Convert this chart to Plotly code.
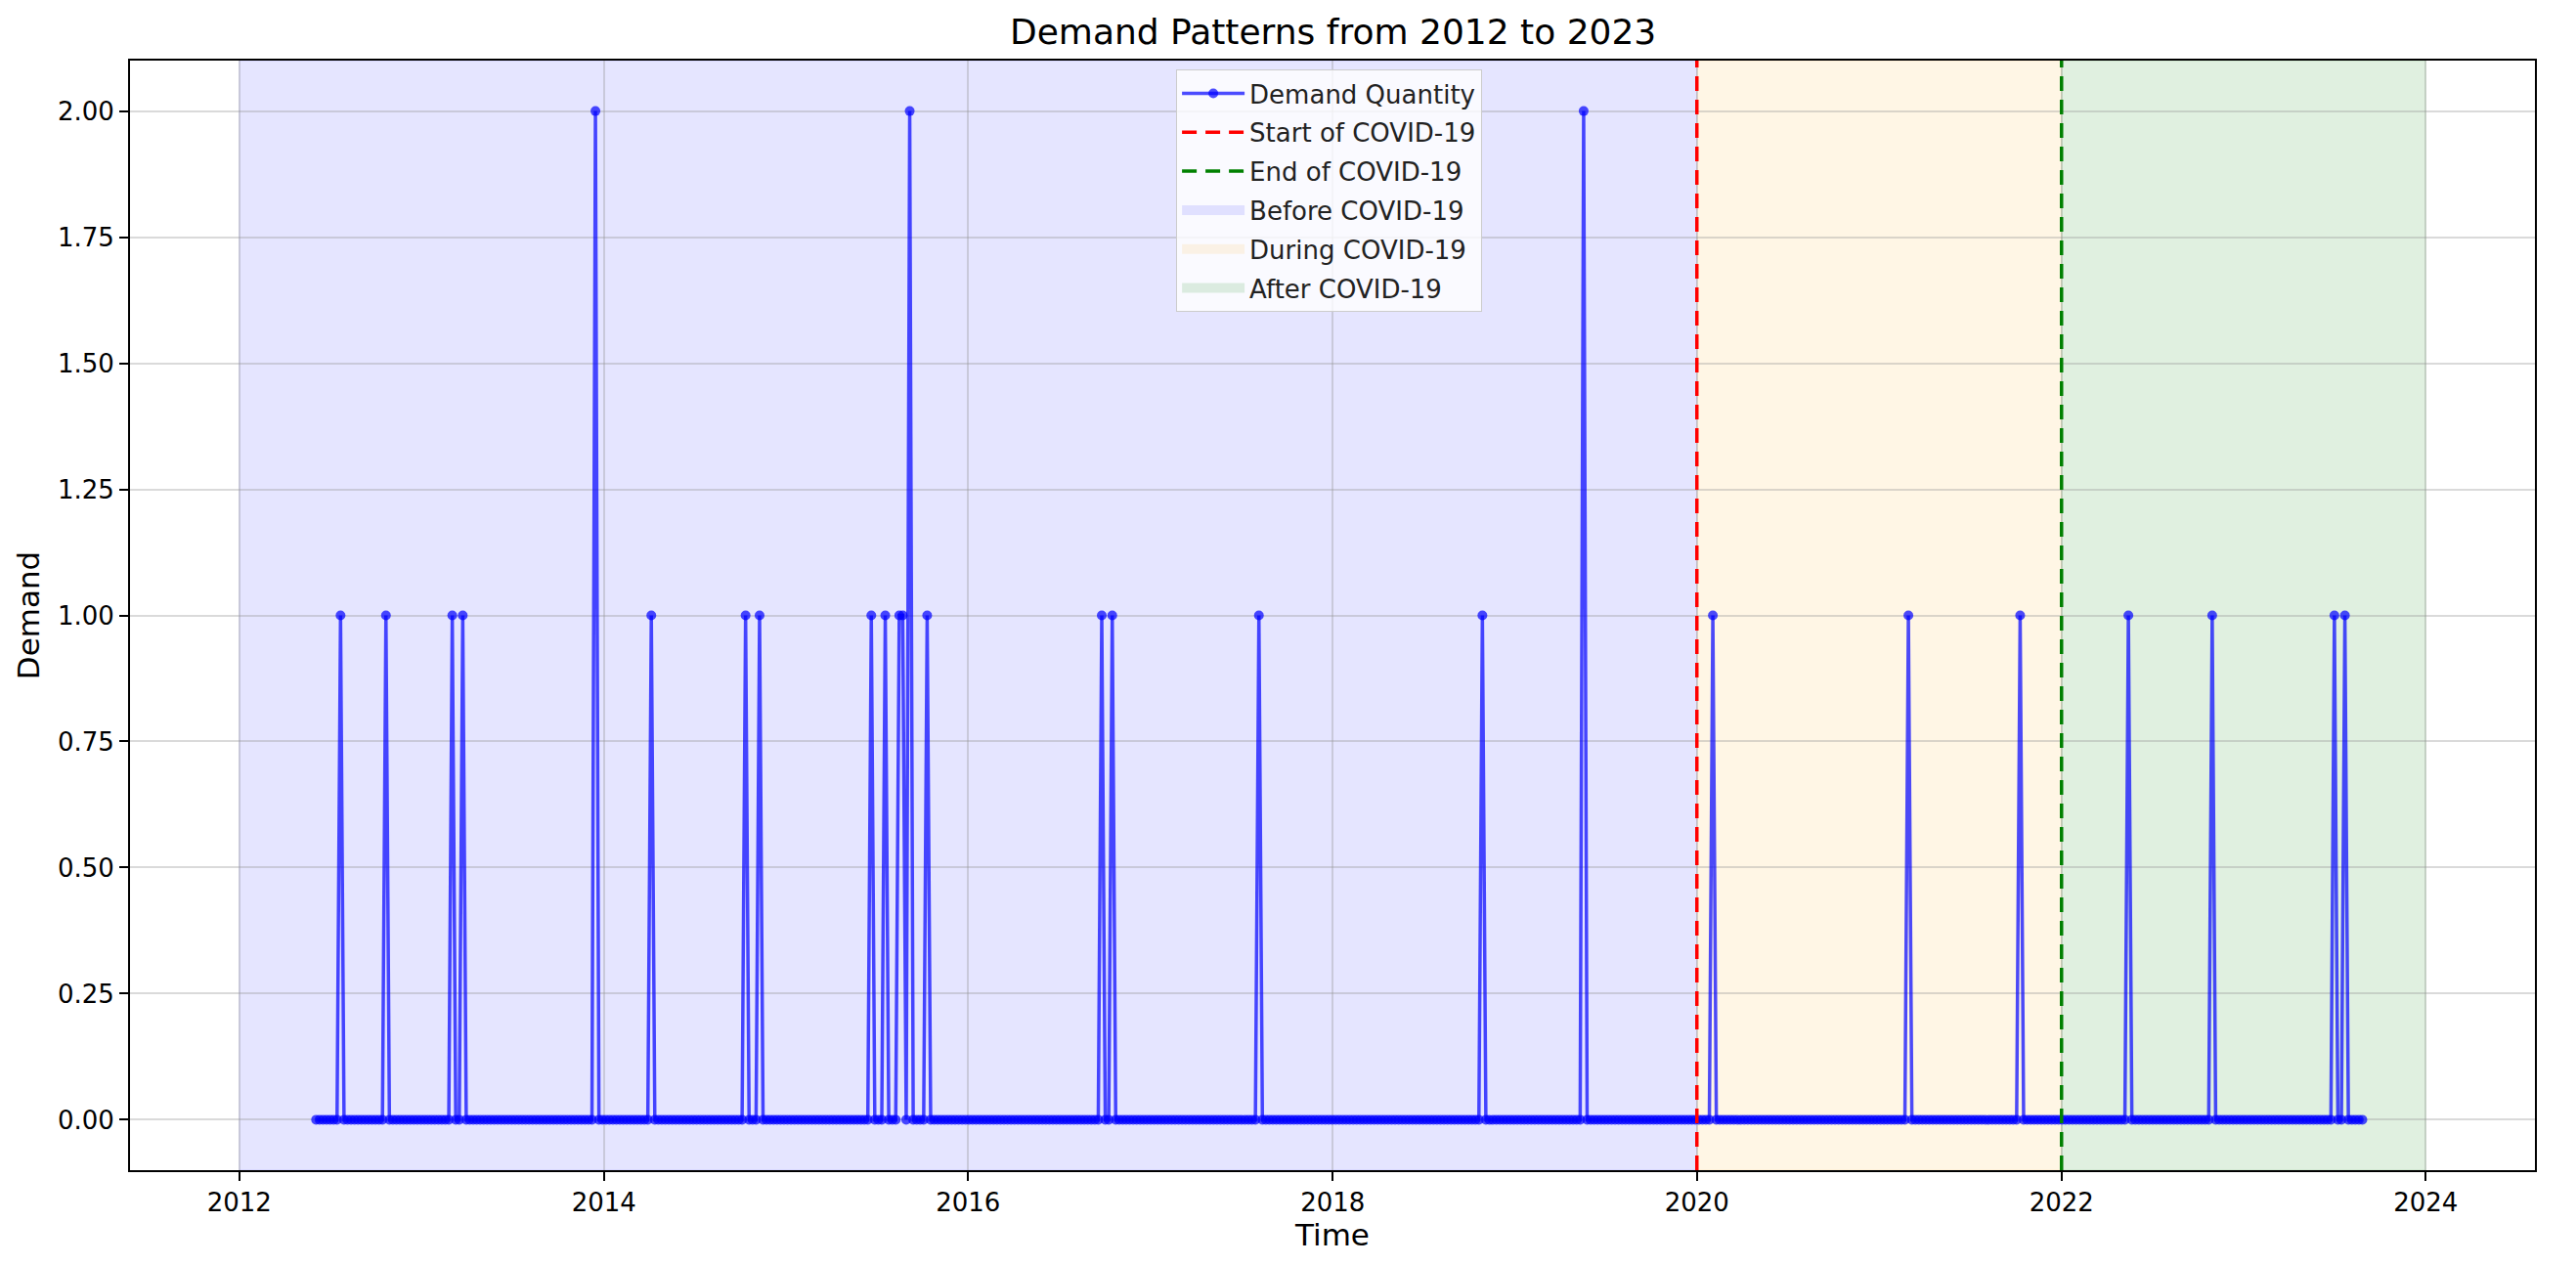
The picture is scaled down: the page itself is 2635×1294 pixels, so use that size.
import pandas as pd
import plotly.graph_objects as go

# ---- data ----
week_start = "2012-06-03"
week_end = "2023-08-27"
spike_dates = [
    "2012-07-22", "2012-10-21", "2013-03-03", "2013-03-24", "2013-12-15",
    "2014-04-06", "2014-10-12", "2014-11-09", "2015-06-21", "2015-07-19",
    "2015-08-16", "2015-08-23", "2015-09-06", "2015-10-11", "2016-09-25",
    "2016-10-16", "2017-08-06", "2018-10-28", "2019-05-19", "2020-02-02",
    "2021-02-28", "2021-10-10", "2022-05-15", "2022-10-30", "2023-07-02",
    "2023-07-23",
]
spike_values = [
    1, 1, 1, 1, 2,
    1, 1, 1, 1, 1,
    1, 1, 2, 1, 1,
    1, 1, 1, 2, 1,
    1, 1, 1, 1, 1,
    1,
]
covid_start = "2020-01-01"
covid_end = "2022-01-01"
period_start = "2012-01-01"
period_end = "2024-01-01"
x_tick_years = ["2012", "2014", "2016", "2018", "2020", "2022", "2024"]
y_ticks = [0.0, 0.25, 0.5, 0.75, 1.0, 1.25, 1.5, 1.75, 2.0]

weeks = pd.date_range(week_start, week_end, freq="W-SUN")
spike_map = {pd.Timestamp(d): v for d, v in zip(spike_dates, spike_values)}
demand = [spike_map.get(w, 0) for w in weeks]

FONT = "DejaVu Sans"
fig = go.Figure()

fig.add_trace(go.Scatter(
    x=weeks, y=demand, mode="lines+markers", name="Demand Quantity",
    line=dict(color="rgba(0,0,255,0.7)", width=3.5),
    marker=dict(color="rgba(0,0,255,0.7)", size=10, line=dict(width=0)),
    legendrank=1, legendgroup="g1",
))

# shaded periods (drawn as shapes, legend entries via dummy traces)
spans = [
    (period_start, covid_start, "rgba(0,0,255,0.10)", "Before COVID-19", 4),
    (covid_start, covid_end, "rgba(255,165,0,0.10)", "During COVID-19", 5),
    (covid_end, period_end, "rgba(0,128,0,0.12)", "After COVID-19", 6),
]
for x0, x1, col, nm, rk in spans:
    fig.add_shape(type="rect", xref="x", yref="paper", x0=x0, x1=x1, y0=0, y1=1,
                  fillcolor=col, line=dict(color=col, width=1), layer="below")
    fig.add_trace(go.Scatter(
        x=[None], y=[None], mode="lines", name=nm,
        line=dict(color=col, width=20), legendrank=rk, legendgroup="g%d" % rk,
        hoverinfo="skip",
    ))

# covid boundary lines
fig.add_shape(type="line", xref="x", yref="paper", x0=covid_start, x1=covid_start, y0=0, y1=1,
              line=dict(color="red", width=3.5, dash="15px,9px"), layer="above",
              showlegend=True, name="Start of COVID-19", legendrank=2, legendgroup="g2")
fig.add_shape(type="line", xref="x", yref="paper", x0=covid_end, x1=covid_end, y0=0, y1=1,
              line=dict(color="green", width=3.5, dash="15px,9px"), layer="above",
              showlegend=True, name="End of COVID-19", legendrank=3, legendgroup="g3")

fig.update_layout(
    width=2635, height=1294,
    margin=dict(l=133, r=42, t=62, b=97),
    paper_bgcolor="white", plot_bgcolor="white",
    font=dict(family=FONT, size=26, color="black"),
    title=dict(text="Demand Patterns from 2012 to 2023", x=0.5175, xanchor="center",
               y=0.975, yanchor="middle", font=dict(size=36, family=FONT, color="black")),
    legend=dict(x=0.435, y=0.992, xanchor="left", yanchor="top",
                bgcolor="rgba(255,255,255,0.8)", bordercolor="#cccccc", borderwidth=1,
                font=dict(size=26, family=FONT, color="#222222"), itemwidth=64,
                tracegroupgap=3, traceorder="grouped"),
    showlegend=True,
)

fig.update_xaxes(
    type="date", range=["2011-05-27", "2024-08-07"], automargin=False,
    tickvals=[pd.Timestamp(y + "-01-01") for y in x_tick_years], ticktext=x_tick_years,
    showgrid=True, gridcolor="rgba(150,150,150,0.35)", gridwidth=2,
    showline=True, linecolor="black", linewidth=2, mirror=True,
    ticks="outside", ticklen=9, tickwidth=2, tickcolor="black",
    tickfont=dict(size=26, family=FONT),
    title=dict(text="Time", font=dict(size=31, family=FONT), standoff=7),
    zeroline=False,
)
fig.update_yaxes(
    range=[-0.1, 2.1], tickvals=y_ticks, tickformat=".2f", automargin=False,
    showgrid=True, gridcolor="rgba(150,150,150,0.35)", gridwidth=2,
    showline=True, linecolor="black", linewidth=2, mirror=True,
    ticks="outside", ticklen=9, tickwidth=2, tickcolor="black",
    tickfont=dict(size=26, family=FONT),
    title=dict(text="Demand", font=dict(size=31, family=FONT), standoff=9),
    zeroline=False,
)

fig.write_html("out.html", config={"displayModeBar": False},
               post_script="document.body.style.margin='0';")
